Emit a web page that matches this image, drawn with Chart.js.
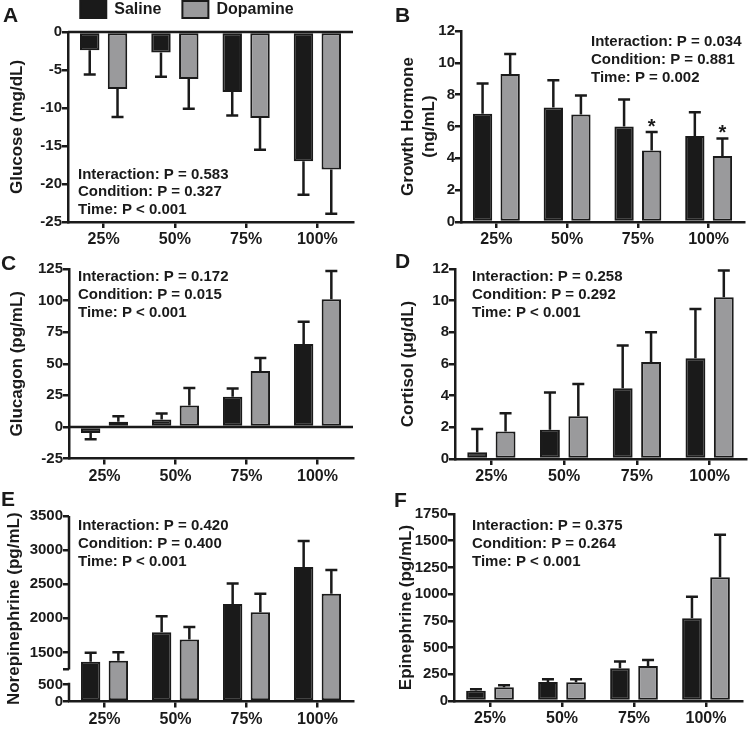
<!DOCTYPE html>
<html>
<head>
<meta charset="utf-8">
<title>Hormone responses, saline vs dopamine</title>
<script src="https://cdn.jsdelivr.net/npm/chart.js@4.4.1/dist/chart.umd.min.js"></script>
<style>
  body { margin: 0; width: 748px; height: 730px; position: relative; overflow: hidden; background: #fff; font-family: "Liberation Sans", Arial, sans-serif; }
  canvas { position: absolute; }
  .tag { position: absolute; font-size: 21px; line-height: 21px; font-weight: bold; color: #1a1a1a; }
</style>
</head>
<body>
<canvas id="pA"></canvas>
<canvas id="pB"></canvas>
<canvas id="pC"></canvas>
<canvas id="pD"></canvas>
<canvas id="pE"></canvas>
<canvas id="pF"></canvas>
<div class="tag" style="left:3px;top:4px">A</div>
<div class="tag" style="left:395px;top:4px">B</div>
<div class="tag" style="left:1px;top:252px">C</div>
<div class="tag" style="left:395px;top:250px">D</div>
<div class="tag" style="left:1px;top:488px">E</div>
<div class="tag" style="left:394px;top:489px">F</div>
<script>
const categories = ['25%', '50%', '75%', '100%'];
const seriesNames = ['Saline', 'Dopamine'];

// A - glucose change (mg/dL)
const glucoseSaline = [-2.4, -2.7, -7.9, -17.0];
const glucoseSalineSem = [3.2, 3.2, 3.1, 4.4];
const glucoseDopamine = [-7.5, -6.2, -11.3, -18.1];
const glucoseDopamineSem = [3.7, 3.9, 4.2, 5.8];
const glucoseStats = ['Interaction: P = 0.583', 'Condition: P = 0.327', 'Time: P < 0.001'];

// B - growth hormone (ng/mL)
const ghSaline = [6.8, 7.2, 6.0, 5.4];
const ghSalineSem = [1.9, 1.7, 1.7, 1.5];
const ghDopamine = [9.3, 6.75, 4.5, 4.15];
const ghDopamineSem = [1.25, 1.2, 1.15, 1.1];
const ghDopamineStars = [false, false, true, true];
const ghStats = ['Interaction: P = 0.034', 'Condition: P = 0.881', 'Time: P = 0.002'];

// C - glucagon (pg/mL)
const glucagonSaline = [-4.8, 5.9, 23.8, 65.6];
const glucagonSalineSem = [5.0, 4.7, 6.6, 17.7];
const glucagonDopamine = [4.0, 16.9, 44.2, 101];
const glucagonDopamineSem = [4.5, 14, 10.3, 22.5];
const glucagonStats = ['Interaction: P = 0.172', 'Condition: P = 0.015', 'Time: P < 0.001'];

// D - cortisol (ug/dL)
const cortisolSaline = [0.42, 1.84, 4.47, 6.37];
const cortisolSalineSem = [1.48, 2.36, 2.7, 3.1];
const cortisolDopamine = [1.73, 2.7, 6.12, 10.21];
const cortisolDopamineSem = [1.16, 2.03, 1.88, 1.69];
const cortisolStats = ['Interaction: P = 0.258', 'Condition: P = 0.292', 'Time: P < 0.001'];

// E - norepinephrine (pg/mL), broken axis
const neSaline = [1363, 1797, 2211, 2752];
const neSalineSem = [131, 234, 298, 380];
const neDopamine = [1378, 1690, 2089, 2362];
const neDopamineSem = [125, 184, 273, 348];
const neStats = ['Interaction: P = 0.420', 'Condition: P = 0.400', 'Time: P < 0.001'];
const neTicks = [0, 500, 1250, 1500, 2000, 2500, 3000, 3500];
const neBlankTicks = [1250];
const neBreak = [0, 550, 1250, 3500];

// F - epinephrine (pg/mL)
const epiSaline = [97, 178, 306, 775];
const epiSalineSem = [12, 25, 63, 200];
const epiDopamine = [128, 175, 328, 1159];
const epiDopamineSem = [19, 28, 56, 397];
const epiStats = ['Interaction: P = 0.375', 'Condition: P = 0.264', 'Time: P < 0.001'];

const ink = '#1a1a1a';
const grey = '#9a9a9c';
const fontFamily = '"Liberation Sans", Arial, Helvetica, sans-serif';
Chart.defaults.font.family = fontFamily;
Chart.defaults.color = ink;
Chart.defaults.animation = false;

// share of the E axis height given to each break point
const neBreakFrac = [0, 0.1005, 0.1726, 1];

function piece(v, from, to) {
  for (let i = 1; i < from.length; i++) {
    if (v <= from[i] || i === from.length - 1) {
      return to[i - 1] + (v - from[i - 1]) / (from[i] - from[i - 1]) * (to[i] - to[i - 1]);
    }
  }
  return to[0];
}

class BrokenScale extends Chart.LinearScale {
  static id = 'broken';
  static defaults = Chart.LinearScale.defaults;
  getPixelForValue(v) {
    if (v === null || v === undefined || isNaN(v)) return NaN;
    return this.getPixelForDecimal(piece(v, neBreak, neBreakFrac));
  }
  getValueForPixel(px) {
    return piece(this.getDecimalForPixel(px), neBreakFrac, neBreak);
  }
}
Chart.register(BrokenScale);

function decor(p) {
  return {
    id: 'decor',
    afterDatasetsDraw(chart) {
      const {ctx, scales: {y}} = chart;
      ctx.save();
      ctx.strokeStyle = ink; ctx.fillStyle = ink; ctx.lineWidth = 2.5;
      chart.data.datasets.forEach((ds, i) => {
        chart.getDatasetMeta(i).data.forEach((bar, j) => {
          const v = ds.data[j];
          const end = v < 0 ? v - ds.sem[j] : v + ds.sem[j];
          const yEnd = y.getPixelForValue(end);
          ctx.beginPath();
          ctx.moveTo(bar.x, bar.y); ctx.lineTo(bar.x, yEnd);
          ctx.moveTo(bar.x - 6, yEnd); ctx.lineTo(bar.x + 6, yEnd);
          ctx.stroke();
          if (ds.stars && ds.stars[j]) {
            ctx.font = 'bold 20px ' + fontFamily;
            ctx.textAlign = 'center'; ctx.textBaseline = 'alphabetic';
            ctx.fillText('*', bar.x, yEnd + 1);
          }
        });
      });
      ctx.restore();
    },
    afterDraw(chart) {
      const {ctx, chartArea: a, scales: {y}} = chart;
      ctx.save();
      ctx.strokeStyle = ink; ctx.lineWidth = 2.5;
      if (y.min < 0) {
        const y0 = y.getPixelForValue(0);
        ctx.beginPath(); ctx.moveTo(a.left, y0); ctx.lineTo(a.right, y0); ctx.stroke();
      }
      if (p.broken) {
        ctx.beginPath();
        ctx.moveTo(a.left, y.getPixelForValue(neBreak[0])); ctx.lineTo(a.left, y.getPixelForValue(neBreak[1]));
        ctx.moveTo(a.left, y.getPixelForValue(neBreak[2])); ctx.lineTo(a.left, y.getPixelForValue(neBreak[3]));
        ctx.stroke();
      }
      ctx.fillStyle = ink;
      ctx.font = 'bold 15px ' + fontFamily;
      ctx.textAlign = 'left'; ctx.textBaseline = 'middle';
      p.stats.forEach((s, k) => ctx.fillText(s, p.statsAt[0] - p.box[0], p.statsAt[1] - p.box[1] + k * 17.8));
      ctx.restore();
    }
  };
}

function buildPanel(p) {
  const cv = document.getElementById(p.id);
  const [bx, by, bw, bh] = p.box;
  const [al, at, ar, ab] = p.area;
  cv.style.left = bx + 'px'; cv.style.top = by + 'px';
  cv.width = bw; cv.height = bh;
  const rightGap = p.legend ? bx + bw - ar : 0;
  const tickGrid = {display: true, drawOnChartArea: false, drawTicks: true, tickLength: 6, lineWidth: 2.5, color: ink};

  const scales = {
    x: {
      ticks: {font: {size: 16, weight: 'bold'}, color: ink, padding: 2, maxRotation: 0, minRotation: 0, autoSkip: false},
      grid: Object.assign({offset: false}, tickGrid),
      border: {display: true, width: 2.5, color: ink},
      afterFit: s => { s.height = by + bh - ab; }
    },
    y: {
      type: p.broken ? 'broken' : 'linear',
      min: p.min, max: p.max,
      ticks: {
        stepSize: p.step, font: {size: 15, weight: 'bold'}, color: ink, padding: 0, autoSkip: false,
        callback: v => (p.blank && p.blank.includes(v)) ? '' : v
      },
      grid: tickGrid,
      border: {display: !p.broken, width: 2.5, color: ink},
      title: {display: true, text: p.yTitle, color: ink, font: {size: 17, weight: 'bold'}, padding: {top: p.titleX - bx - 10.2, bottom: 0}},
      afterFit: s => { s.width = al - bx; }
    }
  };
  if (p.tickValues) scales.y.afterBuildTicks = s => { s.ticks = p.tickValues.map(v => ({value: v})); };
  if (p.legend) {
    scales.gap = {
      type: 'linear', position: 'right', display: true,
      grid: {display: false}, border: {display: false}, ticks: {display: false},
      afterFit: s => { s.width = rightGap; }
    };
  }

  return new Chart(cv, {
    type: 'bar',
    data: {
      labels: categories,
      datasets: [
        {label: seriesNames[0], data: p.saline, sem: p.salineSem, backgroundColor: ink, borderColor: ink, borderWidth: 2, borderSkipped: false},
        {label: seriesNames[1], data: p.dopamine, sem: p.dopamineSem, stars: p.stars, backgroundColor: grey, borderColor: ink, borderWidth: 2, borderSkipped: false}
      ]
    },
    options: {
      responsive: false,
      events: [],
      layout: {padding: {left: 0, top: p.legend ? 0 : at - by, right: bx + bw - ar - rightGap, bottom: 0}},
      datasets: {bar: {categoryPercentage: 0.78, barPercentage: 0.7}},
      scales,
      plugins: {
        legend: {
          display: !!p.legend, position: 'top',
          labels: {boxWidth: 26, boxHeight: 17, padding: 21, color: ink, font: {size: 16, weight: 'bold'}}
        },
        // thin spacer between legend and plot
        title: {display: !!p.legend, text: '', weight: 500, padding: 0, font: {size: 4, lineHeight: 1}},
        tooltip: {enabled: false}
      }
    },
    plugins: [decor(p)]
  });
}

buildPanel({
  id: 'pA', box: [0, -20, 374, 268], area: [68, 32, 353, 222], titleX: 17, legend: true,
  min: -25, max: 0, step: 5, yTitle: 'Glucose (mg/dL)',
  saline: glucoseSaline, salineSem: glucoseSalineSem, dopamine: glucoseDopamine, dopamineSem: glucoseDopamineSem,
  stats: glucoseStats, statsAt: [78, 174.5]
});
buildPanel({
  id: 'pB', box: [374, 0, 374, 248], area: [461, 31, 744, 222], titleX: 408.5,
  min: 0, max: 12, step: 2, yTitle: ['Growth Hormone', '(ng/mL)'],
  saline: ghSaline, salineSem: ghSalineSem, dopamine: ghDopamine, dopamineSem: ghDopamineSem, stars: ghDopamineStars,
  stats: ghStats, statsAt: [591, 42]
});
buildPanel({
  id: 'pC', box: [0, 248, 374, 236], area: [69, 269, 353, 458.5], titleX: 17.5,
  min: -25, max: 125, step: 25, yTitle: 'Glucagon (pg/mL)',
  saline: glucagonSaline, salineSem: glucagonSalineSem, dopamine: glucagonDopamine, dopamineSem: glucagonDopamineSem,
  stats: glucagonStats, statsAt: [78, 277]
});
buildPanel({
  id: 'pD', box: [374, 248, 374, 236], area: [455, 269, 746, 459], titleX: 408,
  min: 0, max: 12, step: 2, yTitle: 'Cortisol (\u03bcg/dL)',
  saline: cortisolSaline, salineSem: cortisolSalineSem, dopamine: cortisolDopamine, dopamineSem: cortisolDopamineSem,
  stats: cortisolStats, statsAt: [472, 277]
});
buildPanel({
  id: 'pE', box: [0, 484, 374, 246], area: [69, 516, 353, 701.5], titleX: 14, broken: true,
  min: 0, max: 3500, tickValues: neTicks, blank: neBlankTicks, yTitle: 'Norepinephrine (pg/mL)',
  saline: neSaline, salineSem: neSalineSem, dopamine: neDopamine, dopamineSem: neDopamineSem,
  stats: neStats, statsAt: [78, 526]
});
buildPanel({
  id: 'pF', box: [374, 484, 374, 246], area: [454, 514, 742, 701], titleX: 406,
  min: 0, max: 1750, step: 250, yTitle: 'Epinephrine (pg/mL)',
  saline: epiSaline, salineSem: epiSalineSem, dopamine: epiDopamine, dopamineSem: epiDopamineSem,
  stats: epiStats, statsAt: [472, 526]
});
</script>
</body>
</html>
